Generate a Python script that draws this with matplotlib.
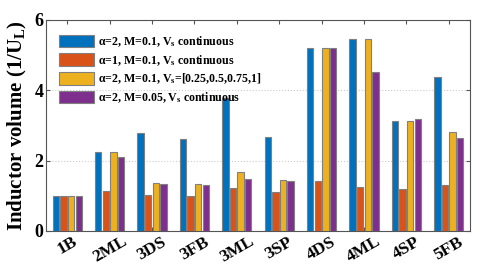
import numpy as np
import matplotlib.pyplot as plt

plt.rcParams['font.family'] = ['Liberation Serif', 'DejaVu Serif']
plt.rcParams['font.weight'] = 'bold'
plt.rcParams['mathtext.fontset'] = 'custom'
plt.rcParams['mathtext.rm'] = 'Liberation Serif:bold'
plt.rcParams['mathtext.it'] = 'Liberation Serif:bold'

categorias = ['1B', '2ML', '3DS', '3FB', '3ML', '3SP', '4DS', '4ML', '4SP', '5FB']
serie_a2_m01 = [1.0, 2.25, 2.78, 2.62, 3.77, 2.68, 5.21, 5.46, 3.14, 4.39]
serie_a1_m01 = [1.0, 1.13, 1.01, 0.99, 1.22, 1.12, 1.42, 1.25, 1.19, 1.31]
serie_a2_discreto = [1.0, 2.25, 1.35, 1.33, 1.68, 1.45, 5.21, 5.46, 3.14, 2.81]
serie_a2_m005 = [1.0, 2.11, 1.34, 1.32, 1.47, 1.42, 5.21, 4.53, 3.18, 2.65]
legendas = [r'$\alpha$=2, M=0.1, V$_s$ continuous',
            r'$\alpha$=1, M=0.1, V$_s$ continuous',
            r'$\alpha$=2, M=0.1, V$_s$=[0.25,0.5,0.75,1]',
            r'$\alpha$=2, M=0.05, V$_s$ continuous']
cores = ['#0072BD', '#D95319', '#EDB120', '#7E2F8E']

fig = plt.figure(figsize=(4.85, 2.73), dpi=100)
ax = fig.add_axes([0.095, 0.154, 0.874, 0.773])

x = np.arange(1, len(categorias) + 1)
series = [serie_a2_m01, serie_a1_m01, serie_a2_discreto, serie_a2_m005]
passo = 0.18
for i, (valores, cor, nome) in enumerate(zip(series, cores, legendas)):
    ax.bar(x + (i - 1.5) * passo, valores, width=0.15, color=cor,
           edgecolor='#808080', linewidth=0.8, label=nome, zorder=3)

ax.set_xlim(0.5, 10.5)
ax.set_ylim(0, 6)
ax.set_yticks([0, 2, 4, 6])
ax.set_xticks(x)
ax.set_xticklabels(categorias, rotation=30, fontsize=12.5, fontweight='bold')
for lbl in ax.get_yticklabels():
    lbl.set_fontsize(13)
    lbl.set_fontweight('bold')
ax.tick_params(direction='in', top=True, right=True, length=3, color='#555555', pad=2)
ax.yaxis.grid(True, linestyle=':', color='#cccccc', linewidth=0.8, zorder=0)
for s in ax.spines.values():
    s.set_color('#555555')
    s.set_linewidth(0.8)

ax.set_ylabel(r'Inductor volume (1/U$_\mathrm{L}$)', fontsize=15, fontweight='bold', labelpad=4)

ax.legend(loc='upper left', bbox_to_anchor=(0.02, 0.955), frameon=False,
          handlelength=2.9, handleheight=1.25, borderaxespad=0.0,
          labelspacing=0.33, handletextpad=0.3,
          prop={'weight': 'bold', 'size': 8.6})

fig.savefig('out.png', dpi=100)
